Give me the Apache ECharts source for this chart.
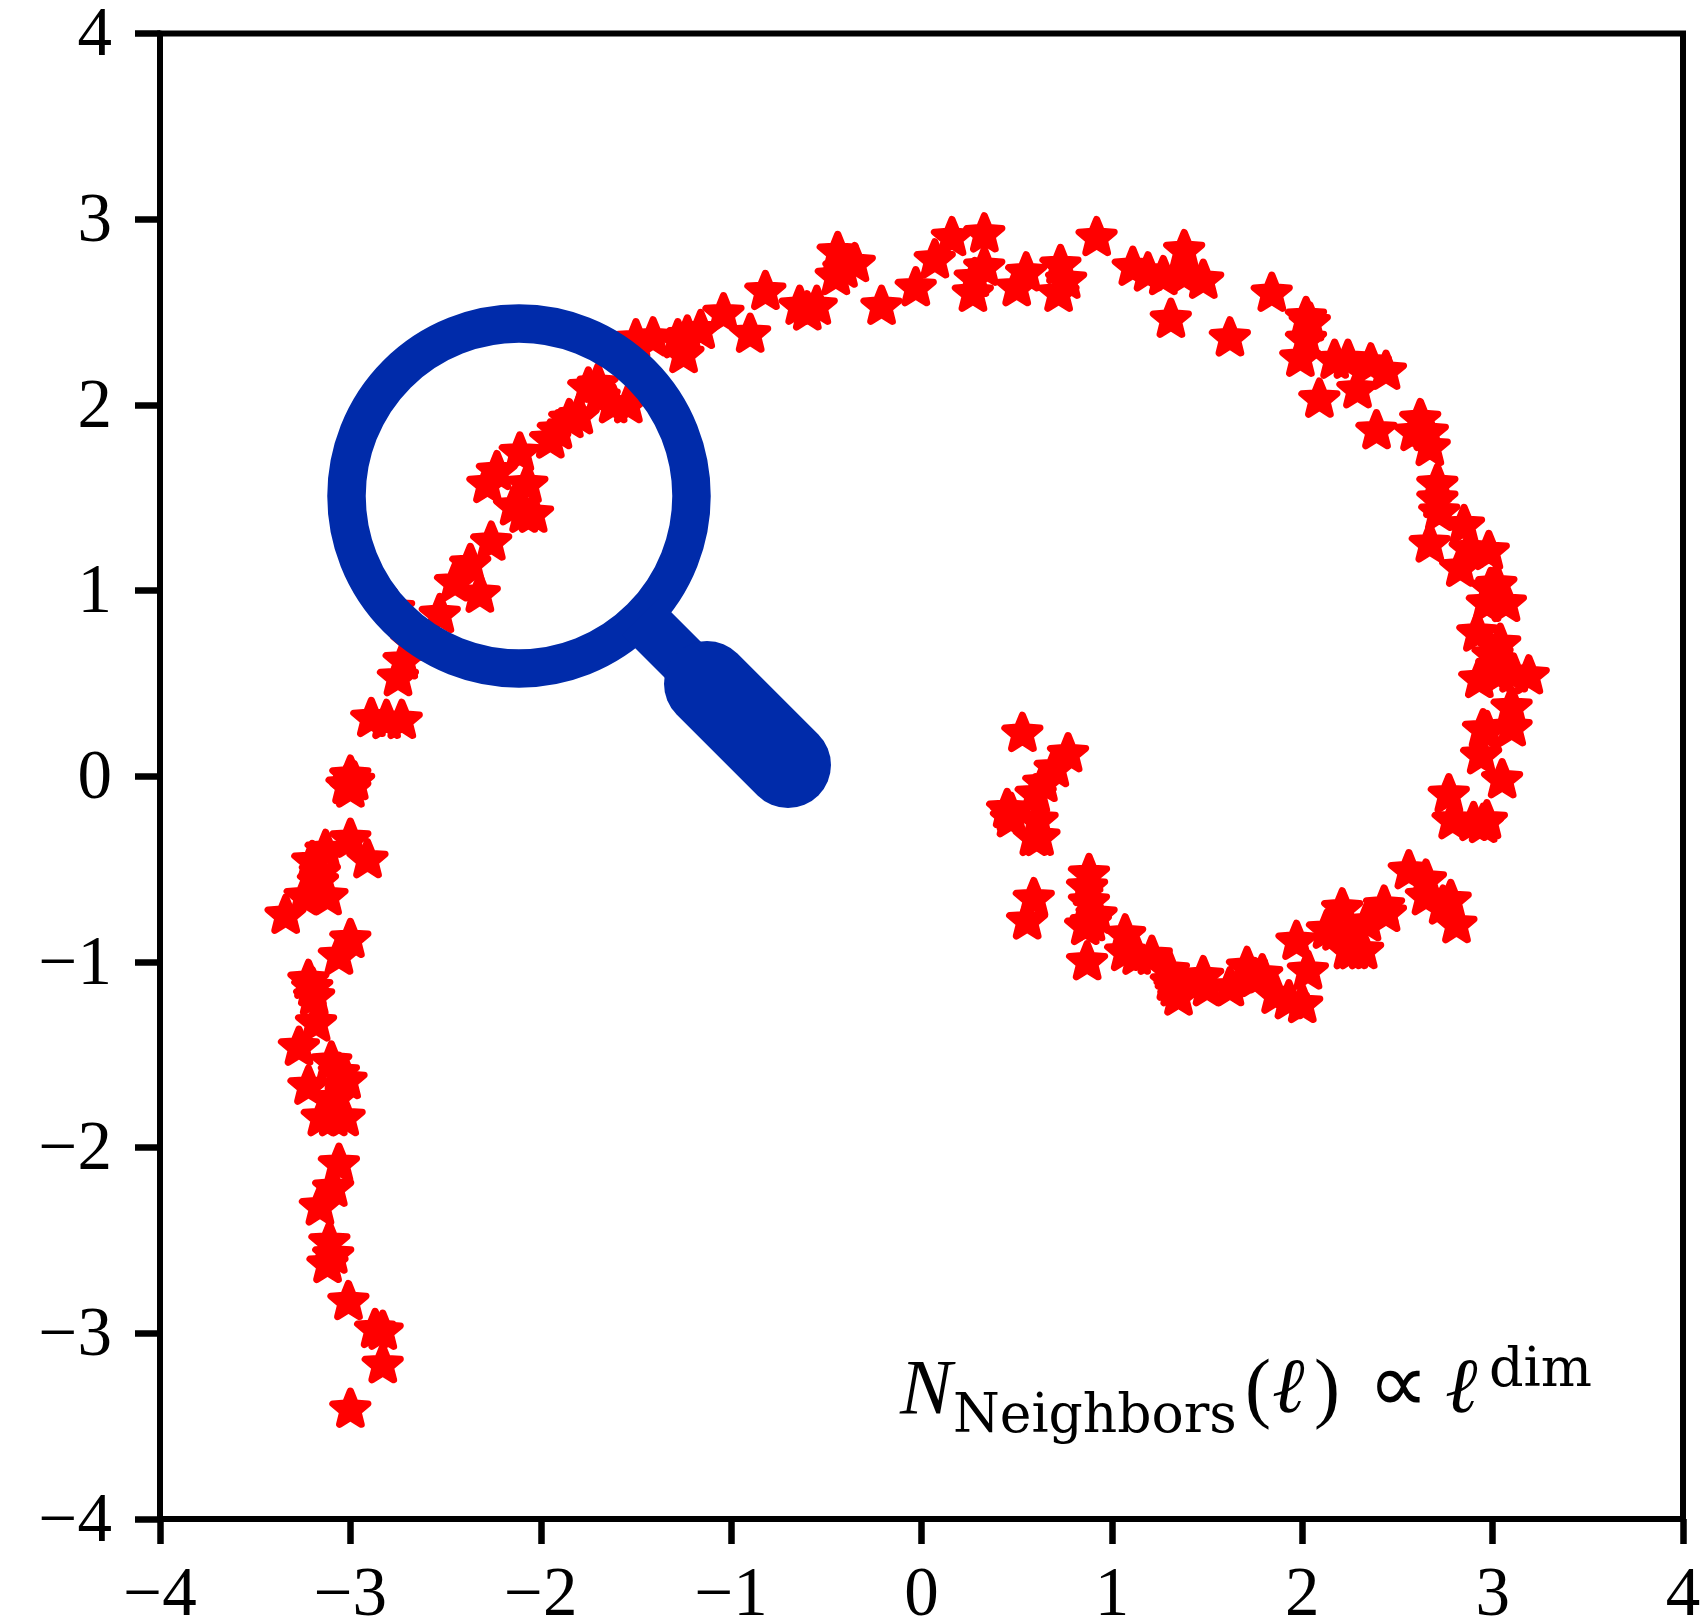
<!DOCTYPE html>
<html>
<head>
<meta charset="utf-8">
<style>html,body{margin:0;padding:0;background:#fff}#c{width:1702px;height:1622px}</style>
<script src="https://cdn.jsdelivr.net/npm/echarts@6/dist/echarts.min.js"></script>
</head>
<body>
<div id="c"></div>
<script>
var tickValues = [-4, -3, -2, -1, 0, 1, 2, 3, 4];
var formulaParts = ["N", "Neighbors", "(", "\u2113", ")", "\u221D", "\u2113", "dim"];

var lowerLeftArm = [
[-3.00,-3.41],[-2.83,-3.17],[-2.87,-2.98],[-2.83,-2.99],[-3.01,-2.83],[-3.11,-2.51],[-3.09,-2.58],[-3.12,-2.63],
[-3.06,-2.09],[-3.09,-2.22],[-3.16,-2.32],[-3.15,-1.84],[-3.03,-1.84],[-3.09,-1.84],[-3.08,-1.74],[-3.02,-1.64],[-3.10,-1.54],
[-3.06,-1.60],[-3.22,-1.67],[-3.27,-1.46],[-3.18,-1.33],[-3.22,-1.10],[-3.20,-1.14],[-3.19,-1.19],[-3.00,-0.88],
[-3.06,-0.97],[-3.34,-0.75],[-3.24,-0.65],[-3.12,-0.65],[-3.20,-0.46],[-3.13,-0.40],[-3.16,-0.52],[-3.17,-0.57],
[-3.00,-0.34],[-2.91,-0.45],[-3.00,0.00],[-3.02,-0.05],[-2.98,-0.03],[-3.00,-0.07]
];
var upperLeftArm = [
[-2.89,0.31],[-2.81,0.30],[-2.73,0.30],[-2.75,0.53],[-2.72,0.62],[-2.68,0.72],[-2.77,0.90],[-2.53,0.87],
[-2.45,1.04],[-2.37,1.14],[-2.32,0.98],[-2.26,1.26],[-2.28,1.57],[-2.23,1.64],[-2.11,1.74],[-2.07,1.57],
[-2.04,1.41],[-2.09,1.41],[-2.14,1.45],[-1.95,1.81],[-1.85,1.92],[-1.91,1.86],[-1.80,1.94],[-1.75,2.09],
[-1.70,2.11],[-1.69,2.04],[-1.54,2.00],[-1.62,2.00],[-1.50,2.35],[-1.41,2.36],[-1.28,2.35],[-1.25,2.27],
[-1.23,2.37],[-1.16,2.40],[-1.04,2.49],[-0.90,2.38]
];
var topArc = [
[-0.82,2.61],[-0.64,2.53],[-0.55,2.53],[-0.60,2.50],[-0.44,2.82],[-0.35,2.76],[-0.45,2.69],[-0.41,2.73],
[-0.21,2.53],[-0.03,2.63],[0.07,2.78],[0.16,2.90],[0.33,2.92],[0.33,2.74],[0.28,2.68],[0.27,2.60],
[0.55,2.71],[0.50,2.63],[0.73,2.75],[0.76,2.67],[0.72,2.60],[0.92,2.90],[1.11,2.74],[1.19,2.71],
[1.27,2.69],[1.38,2.83],[1.48,2.67],[1.38,2.70],[1.31,2.46],[1.62,2.36]
];
var rightArc = [
[1.84,2.60],[2.02,2.47],[2.04,2.44],[2.02,2.35],[1.99,2.25],[2.17,2.24],[2.24,2.24],[2.36,2.22],
[2.44,2.18],[2.09,2.03],[2.29,2.08],[2.39,1.86],[2.62,1.92],[2.66,1.85],[2.59,1.85],[2.67,1.77],
[2.71,1.57],[2.71,1.49],[2.72,1.42],[2.85,1.35],[2.67,1.25],[2.98,1.21],[2.88,1.22],[2.83,1.12],
[3.02,1.03],[2.97,0.93],[3.07,0.93],[2.99,1.01],[2.92,0.77],[3.04,0.71],[3.00,0.65],[3.02,0.59],
[2.93,0.52],[3.03,0.55],[3.19,0.54],[3.11,0.55],[3.10,0.26],[3.10,0.37],[2.95,0.25],[2.97,0.24],
[2.94,0.11],[3.05,-0.02],[2.77,-0.10],[2.79,-0.24],[2.97,-0.24],[2.90,-0.25],[2.95,-0.26]
];
var bottomArc = [
[2.81,-0.80],[2.74,-0.70],[2.78,-0.67],[2.65,-0.65],[2.65,-0.56],[2.56,-0.51],[2.44,-0.74],[2.43,-0.70],
[2.34,-0.79],[2.24,-0.94],[2.32,-0.94],[2.27,-0.94],[2.18,-0.84],[2.21,-0.715],[2.13,-0.83],[2.03,-1.05],
[1.97,-0.89],[2.00,-1.23],[1.93,-1.21],[1.86,-1.18],[1.79,-1.07],[1.75,-1.09],[1.71,-1.03],[1.62,-1.14],
[1.50,-1.14],[1.48,-1.08],[1.35,-1.19],[1.33,-1.14],[1.31,-1.11],[1.30,-1.05],[1.21,-0.97],[1.13,-0.97],
[1.07,-0.95],[1.07,-0.855],[0.87,-1.00],[0.89,-0.79],[0.86,-0.81],[0.92,-0.75],[0.88,-0.68],[0.87,-0.60],[0.88,-0.53]
];
var innerEnd = [
[0.555,-0.78],[0.59,-0.66],[0.47,-0.23],[0.62,-0.33],[0.59,-0.33],[0.61,-0.24],[0.45,-0.18],[0.47,-0.20],
[0.60,-0.10],[0.64,-0.04],[0.70,0.04],[0.77,0.12],[0.53,0.23]
];

var starPath = 'path://M0-100L25.9-35.6L95.1-30.9L41.8 13.6L58.8 80.9L0 44L-58.8 80.9L-41.8 13.6L-95.1-30.9L-25.9-35.6Z';
var navy = '#002BAA';
var serif = '"DejaVu Serif"';
var latex = '"Liberation Serif"';

function label(v) { return v < 0 ? '\u2212' + Math.abs(v) : String(v); }
function text(s, x, baseline, size, family, style) {
  return { type: 'text', z: 120, x: x, y: baseline - 0.82 * size, style: {
    text: s, x: 0, y: 0, fill: '#000', align: 'left', verticalAlign: 'top',
    font: (style || 'normal') + ' ' + size + 'px ' + family } };
}

var chart = echarts.init(document.getElementById('c'), null, { renderer: 'canvas' });
var axisCommon = {
  type: 'value', min: -4, max: 4, interval: 1,
  splitLine: { show: false },
  axisLine: { show: true, onZero: false, lineStyle: { color: '#000', width: 6 } },
  axisTick: { show: true, length: 25, lineStyle: { color: '#000', width: 6.5 } }
};
chart.setOption({
  animation: false,
  backgroundColor: '#fff',
  grid: { left: 160, right: 19, top: 33.5, bottom: 103, outerBoundsMode: 'none', show: true, borderColor: '#000', borderWidth: 6, backgroundColor: 'transparent' },
  xAxis: Object.assign({}, axisCommon, { axisLabel: { color: '#000', fontFamily: latex, fontSize: 69, margin: 43, formatter: label, hideOverlap: false, showMinLabel: true, showMaxLabel: true } }),
  yAxis: Object.assign({}, axisCommon, { axisLabel: { color: '#000', fontFamily: latex, fontSize: 69, margin: 48, verticalAlign: 'top', lineHeight: 7, formatter: label, hideOverlap: false, showMinLabel: true, showMaxLabel: true } }),
  series: [{
    type: 'scatter',
    data: [].concat(lowerLeftArm, upperLeftArm, topArc, rightArc, bottomArc, innerEnd),
    symbol: starPath,
    symbolSize: [35, 33.4],
    symbolOffset: [0, -1.7],
    clip: false,
    itemStyle: { color: '#ff0000', opacity: 1, borderColor: '#ff0000', borderWidth: 7, borderJoin: 'round' }
  }],
  graphic: [
    { type: 'circle', z: 100, shape: { cx: 519, cy: 496, r: 172.5 }, style: { fill: 'none', stroke: navy, lineWidth: 38.5 } },
    { type: 'line', z: 100, shape: { x1: 640, y1: 617, x2: 720, y2: 697 }, style: { stroke: navy, lineWidth: 51, lineCap: 'butt' } },
    { type: 'line', z: 100, shape: { x1: 707, y1: 684, x2: 788, y2: 765 }, style: { stroke: navy, lineWidth: 86, lineCap: 'round' } },
    text(formulaParts[0], 900, 1417, 78, latex, 'italic'),
    text(formulaParts[1], 953, 1435, 53.5, serif),
    text(formulaParts[2], 1245, 1417, 78, latex),
    text(formulaParts[3], 1272, 1417, 78, serif, 'italic'),
    text(formulaParts[4], 1314, 1417, 78, latex),
    text(formulaParts[5], 1368, 1417, 85, '"DejaVu Sans"'),
    text(formulaParts[6], 1445, 1417, 78, serif, 'italic'),
    text(formulaParts[7], 1489, 1389, 54, serif)
  ]
});
</script>
</body>
</html>
